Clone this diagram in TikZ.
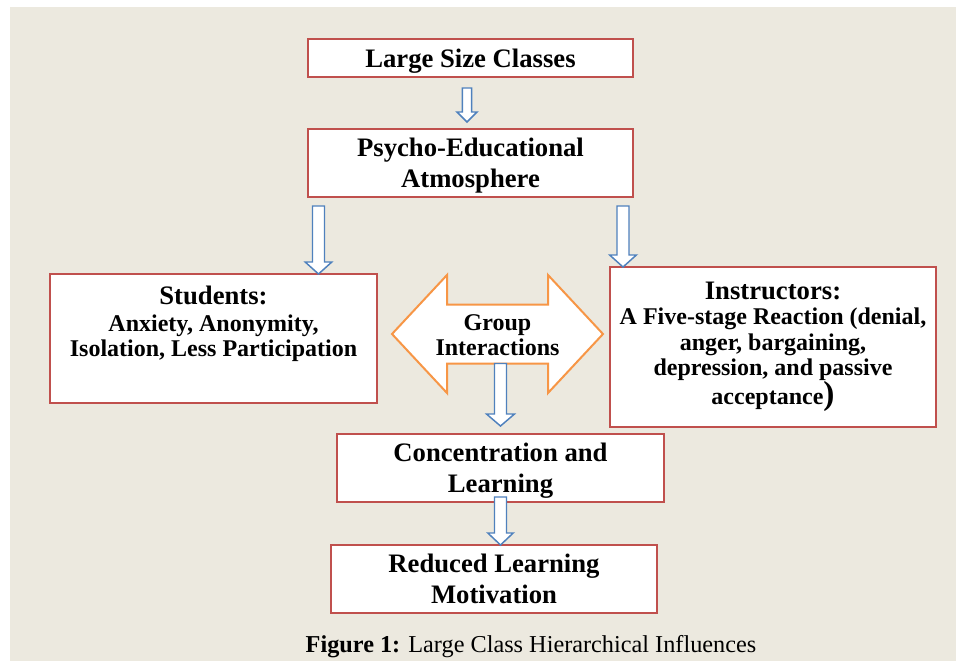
\documentclass[tikz,border=0pt]{standalone}
\usepackage{fontspec}
\setmainfont{Liberation Serif}
\usetikzlibrary{calc}
\definecolor{bgbeige}{HTML}{ECE9DF}
\definecolor{boxred}{HTML}{C0504D}
\definecolor{arrblue}{HTML}{4F81BD}
\definecolor{grporange}{HTML}{F79646}
\tikzset{
  box/.style={draw=boxred, line width=1.5pt, fill=white, inner sep=0pt, align=center,
    font=\bfseries\fontsize{20}{23}\selectfont},
  lowbox/.style={box, text depth=0pt},
  smalltext/.style={font=\bfseries\fontsize{18}{19}\selectfont},
  fatarr/.style={draw=arrblue, line width=1.1pt, fill=white, line join=miter},
  grparr/.style={draw=grporange, line width=1.5pt, fill=white, line join=miter}
}
% block arrow pointing down: start, tip, half shaft, half head, head length
\newcommand{\fatarrow}[5]{%
  \draw[fatarr] let \p1=(#1), \p2=(#2) in
    (\x1-#3,\y1) -- (\x1+#3,\y1) -- (\x1+#3,\y2+#5) -- (\x1+#4,\y2+#5)
    -- (\x1,\y2) -- (\x1-#4,\y2+#5) -- (\x1-#3,\y2+#5) -- cycle;}
\begin{document}
\begin{tikzpicture}[x=0.75pt,y=-0.75pt]
\useasboundingbox (0,0) rectangle (956,661);
\fill[bgbeige] (10,7) rectangle (956,661);

\node[lowbox, minimum width=243.75pt, minimum height=28.5pt] (large) at (470.5,58) {Large Size Classes};
\node[lowbox, minimum width=243.75pt, minimum height=51pt] (psycho) at (470.5,163) {Psycho-Educational\\Atmosphere};
\node[box, minimum width=245.25pt, minimum height=96.75pt] (students) at (213.5,338.5)
  {\parbox[c][96.75pt][t]{240pt}{\centering\vspace*{9pt}%
   Students:\\[1pt]
   \fontsize{18}{19}\selectfont Anxiety, Anonymity,\\ Isolation, Less Participation\par}};
\node[box, smalltext, minimum width=244.5pt, minimum height=120pt] (instr) at (773,347)
  {{\fontsize{20}{21}\selectfont Instructors:}\\
   A Five-stage Reaction (denial,\\ anger, bargaining,\\ depression, and passive\\
   acceptance{\fontsize{25}{20}\selectfont)}};
\node[lowbox, minimum width=245.25pt, minimum height=51pt] (conc) at (500.5,468) {Concentration and\\Learning};
\node[lowbox, minimum width=244.5pt, minimum height=51pt] (red) at (494,579) {Reduced Learning\\Motivation};

\begin{scope}[shift={(497.5,334)}]
\draw[grparr] (-105.5,0) -- (-50.5,-59) -- (-50.5,-29.5) -- (50.5,-29.5) -- (50.5,-59)
  -- (105.5,0) -- (50.5,59) -- (50.5,29.5) -- (-50.5,29.5) -- (-50.5,59) -- cycle;
\coordinate (gbot) at (0,29.5);
\node[smalltext, align=center] (group) at (0,1) {Group\\Interactions};
\end{scope}

\fatarrow{$(large.south)+(-3.5,10)$}{$(psycho.north)+(0,-6)$}{3.4pt}{7.5pt}{7.5pt}
\fatarrow{$(psycho.south west)+(11.5,8)$}{$(students.north)+(0,1)$}{4.5pt}{10pt}{9pt}
\fatarrow{$(psycho.south east)+(-11,8)$}{$(instr.north)+(0,1)$}{4.5pt}{10pt}{9pt}
\fatarrow{conc.north |- gbot}{$(conc.north)+(0,-7)$}{4.5pt}{10.5pt}{9pt}
\fatarrow{$(conc.south)+(0,-6)$}{$(red.north)+(0,1)$}{4.5pt}{9.5pt}{9pt}

\node (caption) at (531,646.5) {\fontsize{18.2}{20}\selectfont\textbf{Figure 1:} Large Class Hierarchical Influences};
\end{tikzpicture}
\end{document}
